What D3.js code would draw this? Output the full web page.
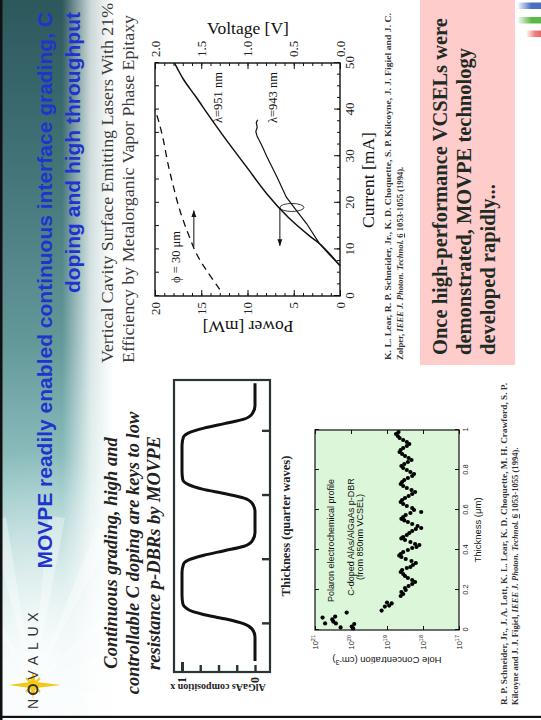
<!DOCTYPE html>
<html>
<head>
<meta charset="utf-8">
<script src="https://cdn.jsdelivr.net/npm/d3@7"></script>
<style>
  html, body { margin: 0; padding: 0; background: #fff; overflow: hidden; }
  svg { display: block; }
</style>
</head>
<body>
<script>
// ---------------- data ----------------
// Light-output / voltage vs. current of the 30 um VCSELs
const currentTicks = [0, 10, 20, 30, 40, 50];
const powerTicks = [0, 5, 10, 15, 20];
const voltageTicks = [0.0, 0.5, 1.0, 1.5, 2.0];
const voltageTickLabels = ["0.0", "0.5", "1.0", "1.5", "2.0"];

const current951 = [6.5, 9, 11.2, 12.9, 16.9, 21.9, 27.7, 33.5, 38.5, 42.8, 46.4, 48.9, 50];
const power951   = [0, 1.1, 2.2, 3.3, 5.6, 7.9, 10.1, 12.3, 14.1, 15.6, 16.9, 17.6, 17.9];

const current943 = [6.5, 9, 11.2, 15.5, 18.3, 21.2, 25.5, 29.9, 32.5, 34.2, 35.3, 36.2, 37.2, 37.8];
const power943   = [0, 1.2, 2.2, 3.6, 4.7, 5.8, 6.8, 7.9, 8.5, 8.95, 9.1, 8.95, 9.05, 8.9];

const currentV = [1.4, 5.4, 9.0, 13.3, 18.3, 23.4, 28.4, 33.5, 37.5, 40];
const voltageV = [1.30, 1.44, 1.55, 1.64, 1.73, 1.80, 1.86, 1.91, 1.96, 2.0];

// Graded AlGaAs composition profile across the mirror
const gradeTicks = [1, 2, 3, 4];
const compositionTicks = [0, 0.25, 0.5, 0.75, 1];
const compositionTickLabels = ["0", "", "", "", "1"];
const thicknessQW = [0.42, 0.8, 0.92, 1.0, 1.08, 1.15, 1.22, 1.32, 1.45,
                     1.8, 1.93, 2.0, 2.07, 2.14, 2.21, 2.29, 2.42,
                     2.75, 2.88, 2.96, 3.03, 3.1, 3.17, 3.25, 3.38,
                     3.78, 3.91, 3.98, 4.05, 4.12, 4.19, 4.27, 4.4, 4.75];
const composition = [0, 0, 0.04, 0.15, 0.42, 0.72, 0.91, 0.99, 1,
                     1, 0.98, 0.9, 0.7, 0.42, 0.15, 0.04, 0,
                     0, 0.04, 0.15, 0.42, 0.72, 0.91, 0.99, 1,
                     1, 0.98, 0.9, 0.7, 0.42, 0.15, 0.04, 0, 0];

// Electrochemical hole profile (exponent of cm^-3)
const depthTicks = [0, 0.2, 0.4, 0.6, 0.8, 1];
const depthTickLabels = ["0", "0.2", "0.4", "0.6", "0.8", "1"];
const concExponents = [17, 18, 19, 20, 21];
const holeDepth = [
  0.062, 0.033, 0.053, 0.042, 0.067, 0.033, 0.013, 0.087, 0.017, 0.008, 0.03,
  0.097, 0.117, 0.137, 0.122, 0.133,
  0.17, 0.18, 0.19, 0.2, 0.21, 0.22, 0.23, 0.24, 0.25, 0.26, 0.27, 0.28, 0.29, 0.30, 0.31,
  0.315, 0.325, 0.335, 0.345, 0.355, 0.365, 0.372, 0.38, 0.39, 0.40, 0.41, 0.415, 0.425, 0.43,
  0.44, 0.45, 0.458, 0.465, 0.475, 0.485, 0.495, 0.505, 0.51, 0.52, 0.53, 0.54, 0.548, 0.556,
  0.565, 0.575, 0.585, 0.59, 0.60, 0.61, 0.62, 0.63, 0.64, 0.65, 0.66, 0.67, 0.68, 0.69,
  0.70, 0.71, 0.72, 0.73, 0.74, 0.75, 0.76, 0.77, 0.78, 0.79, 0.80, 0.81, 0.82,
  0.83, 0.84, 0.85, 0.86, 0.87, 0.88, 0.89, 0.90, 0.91, 0.92, 0.93, 0.94, 0.95, 0.96, 0.97, 0.98, 0.99];
const holeLogConc = [
  20.79, 20.72, 20.52, 20.49, 20.44, 20.42, 20.29, 20.12, 19.98, 19.94, 19.91,
  19.15, 19.06, 19.0, 18.94, 18.87,
  18.62, 18.55, 18.6, 18.48, 18.5, 18.4, 18.3, 18.22, 18.3, 18.42, 18.5, 18.55, 18.62, 18.58, 18.45,
  18.35, 18.28, 18.2, 18.32, 18.48, 18.6, 18.66, 18.62, 18.55, 18.42, 18.3, 18.18, 18.1, 18.22,
  18.35, 18.5, 18.6, 18.55, 18.45, 18.38, 18.3, 18.2, 18.05, 18.15, 18.3, 18.42, 18.52, 18.6,
  18.55, 18.48, 18.35, 18.05, 18.25, 18.3, 18.45, 18.55, 18.62, 18.58, 18.5, 18.4, 18.3, 18.22,
  18.32, 18.45, 18.55, 18.62, 18.58, 18.52, 18.42, 18.3, 18.25, 18.35, 18.45, 18.55, 18.6,
  18.52, 18.42, 18.32, 18.4, 18.5, 18.58, 18.65, 18.62, 18.55, 18.45, 18.38, 18.45, 18.55, 18.65, 18.7, 18.75, 18.68];

const logoLetters = ["N", "O", "V", "A", "L", "U", "X"];

// ---------------- canvas ----------------
// The slide is laid out landscape (720 x 541) and turned a quarter turn onto the page.
const svg = d3.select("body").append("svg").attr("width", 541).attr("height", 720);
const defs = svg.append("defs");
const slide = svg.append("g").attr("transform", "translate(0,720) rotate(-90)");

const SERIF = "'Liberation Serif', 'Times New Roman', serif";
const SANS = "'Liberation Sans', Arial, sans-serif";

slide.append("rect").attr("width", 720).attr("height", 541).attr("fill", "#fff");

// ---- header band ----
const hg = defs.append("linearGradient").attr("id", "hdr").attr("x1", 0).attr("x2", 1).attr("y1", 0).attr("y2", 0);
[[0, "#eef9f9"], [0.14, "#cfe8e8"], [0.32, "#95c6c5"], [0.52, "#64999a"], [0.75, "#44767a"], [1, "#2c585c"]]
  .forEach(([o, c]) => hg.append("stop").attr("offset", o).attr("stop-color", c));
const hf = defs.append("linearGradient").attr("id", "hdrFade").attr("x1", 0).attr("x2", 0).attr("y1", 0).attr("y2", 1);
[[0, 0], [0.55, 0], [0.8, 0.75], [1, 1]]
  .forEach(([o, a]) => hf.append("stop").attr("offset", o).attr("stop-color", "#fff").attr("stop-opacity", a));
const glow = defs.append("radialGradient").attr("id", "glow");
[[0, 0.95], [0.35, 0.6], [1, 0]]
  .forEach(([o, a]) => glow.append("stop").attr("offset", o).attr("stop-color", "#ffffff").attr("stop-opacity", a));

slide.append("rect").attr("x", 0).attr("y", 0).attr("width", 720).attr("height", 112).attr("fill", "url(#hdr)");
slide.append("rect").attr("x", 0).attr("y", 0).attr("width", 720).attr("height", 113).attr("fill", "url(#hdrFade)");
slide.append("ellipse").attr("cx", 40).attr("cy", 35).attr("rx", 230).attr("ry", 140).attr("fill", "url(#glow)");

// light rays around the logo star
const star = { x: 35, y: 33 };
const rayAngles = [-80, -55, -30, -12, 8, 25, 48, 70, 100, 130];
slide.append("g").selectAll("path").data(rayAngles).join("path")
  .attr("d", a => {
    const r = a * Math.PI / 180, L = 170, w = 0.05;
    const p1 = [star.x + L * Math.cos(r - w), star.y + L * Math.sin(r - w)];
    const p2 = [star.x + L * Math.cos(r + w), star.y + L * Math.sin(r + w)];
    return `M${star.x},${star.y}L${p1}L${p2}Z`;
  })
  .attr("fill", "#ffffff").attr("opacity", 0.35);

// logo
const lx = d3.scalePoint().domain(logoLetters).range([16, 103]);
slide.append("path")
  .attr("d", `M${star.x},${star.y - 24}L${star.x + 3},${star.y - 3}L${star.x + 13},${star.y}L${star.x + 3},${star.y + 3}` +
             `L${star.x},${star.y + 28}L${star.x - 3},${star.y + 3}L${star.x - 13},${star.y}L${star.x - 3},${star.y - 3}Z`)
  .attr("fill", "#f4c815");
slide.append("path")
  .attr("d", `M${star.x - 7},${star.y - 7}L${star.x + 7},${star.y + 7}M${star.x - 7},${star.y + 7}L${star.x + 7},${star.y - 7}`)
  .attr("stroke", "#f4c815").attr("stroke-width", 2);
slide.append("g").selectAll("text").data(logoLetters.filter(d => d !== "O")).join("text")
  .attr("x", d => lx(d)).attr("y", 38).attr("text-anchor", "middle")
  .attr("font-family", SANS).attr("font-size", 14).attr("fill", "#333").text(d => d);
slide.append("circle").attr("cx", lx("O")).attr("cy", 33).attr("r", 4.5)
  .attr("fill", "none").attr("stroke", "#333").attr("stroke-width", 2);

// title
const title = ["MOVPE readily enabled continuous interface grading, C", "doping and high throughput"];
slide.append("g").selectAll("text").data(title).join("text")
  .attr("x", 708).attr("y", (d, i) => 52 + i * 28).attr("text-anchor", "end")
  .attr("font-family", SANS).attr("font-weight", "bold").attr("font-size", 21)
  .attr("fill", "#1f33cf").text(d => d);

// frame lines of the slide
slide.append("rect").attr("x", 0).attr("y", 0).attr("width", 720).attr("height", 2.5).attr("fill", "#111");
slide.append("rect").attr("x", 2).attr("y", 0).attr("width", 2.2).attr("height", 541).attr("fill", "#111");

// colour bars in the corner
[["#4a6fc0", 711, 517], ["#5cb845", 696.5, 517], ["#e84a4a", 683, 526]].forEach(([c, x, y0], i) => {
  const gid = "bar" + i;
  const gr = defs.append("linearGradient").attr("id", gid).attr("x1", 0).attr("x2", 0).attr("y1", 0).attr("y2", 1);
  gr.append("stop").attr("offset", 0).attr("stop-color", c).attr("stop-opacity", 0);
  gr.append("stop").attr("offset", 0.6).attr("stop-color", c).attr("stop-opacity", i === 2 ? 0.7 : 1);
  gr.append("stop").attr("offset", 1).attr("stop-color", c).attr("stop-opacity", i === 2 ? 0.85 : 1);
  slide.append("rect").attr("x", x).attr("y", y0).attr("width", 6.5).attr("height", 541 - y0).attr("fill", `url(#${gid})`);
});

// ---- left text block ----
const lead = ["Continuous grading, high and", "controllable C doping are keys to low", "resistance p-DBRs by MOVPE"];
slide.append("g").selectAll("text").data(lead).join("text")
  .attr("x", 167).attr("y", (d, i) => 117 + i * 21.5).attr("text-anchor", "middle")
  .attr("font-family", SERIF).attr("font-weight", "bold").attr("font-style", "italic")
  .attr("font-size", 18.5).attr("fill", "#222").text(d => d);

// helper for lines mixing italic / underlined runs
function richLine(parent, x, y, parts, size, len) {
  const t = parent.append("text").attr("x", x).attr("y", y)
    .attr("font-family", SERIF).attr("font-weight", "bold").attr("font-size", size).attr("fill", "#333");
  if (len) t.attr("textLength", len).attr("lengthAdjust", "spacingAndGlyphs");
  parts.forEach(p => {
    const s = t.append("tspan").text(p.t);
    if (p.i) s.attr("font-style", "italic");
    if (p.u) s.attr("text-decoration", "underline");
  });
  return t;
}

// ---- L-I-V plot ----
const pp = slide.append("g");
const xI = d3.scaleLinear().domain([0, 50]).range([424, 657]);
const yP = d3.scaleLinear().domain([0, 20]).range([340, 155]);
const yV = d3.scaleLinear().domain([0, 2]).range([340, 155]);

pp.append("text").attr("x", 357).attr("y", 113).attr("font-family", SERIF).attr("font-size", 16)
  .attr("fill", "#3a3a3a").attr("textLength", 360).attr("lengthAdjust", "spacingAndGlyphs")
  .text("Vertical Cavity Surface Emitting Lasers With 21%");
pp.append("text").attr("x", 357).attr("y", 134).attr("font-family", SERIF).attr("font-size", 16)
  .attr("fill", "#3a3a3a").attr("textLength", 348).attr("lengthAdjust", "spacingAndGlyphs")
  .text("Efficiency by Metalorganic Vapor Phase Epitaxy");

function styleAxis(sel, fs) {
  sel.select(".domain").remove();
  sel.selectAll("line").attr("stroke", "#111");
  sel.selectAll("text").attr("font-family", SERIF).attr("font-size", fs).attr("fill", "#222");
}
// minor ticks
pp.append("g").attr("transform", "translate(0,340)")
  .call(d3.axisBottom(xI).tickValues(d3.range(0, 50.1, 2.5)).tickSize(-3).tickFormat("")).call(styleAxis, 12);
pp.append("g").attr("transform", "translate(0,155)")
  .call(d3.axisTop(xI).tickValues(d3.range(0, 50.1, 5)).tickSize(-4).tickFormat("")).call(styleAxis, 12);
pp.append("g").attr("transform", "translate(424,0)")
  .call(d3.axisLeft(yP).tickValues(d3.range(0, 20.1, 1)).tickSize(-3).tickFormat("")).call(styleAxis, 12);
pp.append("g").attr("transform", "translate(657,0)")
  .call(d3.axisRight(yV).tickValues(d3.range(0, 2.01, 0.1)).tickSize(-3).tickFormat("")).call(styleAxis, 12);
// major ticks with labels
pp.append("g").attr("transform", "translate(0,340)")
  .call(d3.axisBottom(xI).tickValues(currentTicks).tickSize(-6).tickPadding(5).tickFormat(d3.format("d"))).call(styleAxis, 13);
pp.append("g").attr("transform", "translate(424,0)")
  .call(d3.axisLeft(yP).tickValues(powerTicks).tickSize(-6).tickPadding(6).tickFormat(d3.format("d"))).call(styleAxis, 13);
pp.append("g").attr("transform", "translate(657,0)")
  .call(d3.axisRight(yV).tickValues(voltageTicks).tickSize(-6).tickPadding(6).tickFormat((d, i) => voltageTickLabels[i])).call(styleAxis, 13);

pp.append("rect").attr("x", 424).attr("y", 155).attr("width", 233).attr("height", 185)
  .attr("fill", "none").attr("stroke", "#111").attr("stroke-width", 1.4);

const linePI = d3.line().x(d => xI(d[0])).y(d => yP(d[1])).curve(d3.curveCatmullRom);
pp.append("path").datum(d3.zip(current951, power951)).attr("d", linePI)
  .attr("fill", "none").attr("stroke", "#111").attr("stroke-width", 1.5);
pp.append("path").datum(d3.zip(current943, power943)).attr("d", d3.line().x(d => xI(d[0])).y(d => yP(d[1])))
  .attr("fill", "none").attr("stroke", "#111").attr("stroke-width", 1.2);
pp.append("path").datum(d3.zip(currentV, voltageV))
  .attr("d", d3.line().x(d => xI(d[0])).y(d => yV(d[1])).curve(d3.curveCatmullRom))
  .attr("fill", "none").attr("stroke", "#111").attr("stroke-width", 1.3).attr("stroke-dasharray", "7,5");

// annotations
const ann = [["λ=951 nm", 597, 222], ["λ=943 nm", 597, 277], ["ϕ = 30 μm", 437, 180]];
pp.selectAll("text.ann").data(ann).join("text").attr("class", "ann")
  .attr("x", d => d[1]).attr("y", d => d[2]).attr("font-family", SERIF).attr("font-size", 12.5)
  .attr("fill", "#111").text(d => d[0]);
pp.append("ellipse").attr("cx", xI(19)).attr("cy", yP(5.2)).attr("rx", 4).attr("ry", 12)
  .attr("fill", "none").attr("stroke", "#222").attr("stroke-width", 0.9);
defs.append("marker").attr("id", "ah").attr("viewBox", "0 0 10 10").attr("refX", 9).attr("refY", 5)
  .attr("markerWidth", 9).attr("markerHeight", 7).attr("orient", "auto")
  .append("path").attr("d", "M0,1.5L10,5L0,8.5Z").attr("fill", "#111");
pp.append("line").attr("x1", xI(19)).attr("x2", xI(10.8)).attr("y1", yP(6.5)).attr("y2", yP(6.5))
  .attr("stroke", "#111").attr("stroke-width", 1).attr("marker-end", "url(#ah)");
pp.append("line").attr("x1", xI(10.6)).attr("x2", xI(18.3)).attr("y1", yV(1.58)).attr("y2", yV(1.58))
  .attr("stroke", "#111").attr("stroke-width", 1).attr("marker-end", "url(#ah)");

// axis titles
pp.append("text").attr("x", 540).attr("y", 374).attr("text-anchor", "middle")
  .attr("font-family", SERIF).attr("font-size", 17.5).attr("fill", "#111").text("Current [mA]");
pp.append("text").attr("transform", "translate(399,248) rotate(-90)").attr("text-anchor", "middle")
  .attr("font-family", SERIF).attr("font-size", 17.5).attr("fill", "#111").text("Power [mW]");
pp.append("text").attr("transform", "translate(686,248) rotate(90)").attr("text-anchor", "middle")
  .attr("font-family", SERIF).attr("font-size", 17.5).attr("fill", "#111").text("Voltage [V]");

richLine(slide, 360, 391, [{ t: "K. L. Lear, R. P. Schneider, Jr., K. D. Choquette, S. P. Kilcoyne, J. J. Figiel and J. C." }], 8.6, 347);
richLine(slide, 360, 403, [{ t: "Zolper, " }, { t: "IEEE J. Photon. Technol.", i: true }, { t: " " }, { t: "6", u: true }, { t: " 1053-1055 (1994)." }], 8.6);

// ---- pink call-out ----
slide.append("rect").attr("x", 355).attr("y", 420).attr("width", 365).attr("height", 95).attr("fill", "#ffcccc");
const callout = ["Once high-performance VCSELs were", "demonstrated, MOVPE technology", "developed rapidly..."];
slide.append("g").selectAll("text").data(callout).join("text")
  .attr("x", 365).attr("y", (d, i) => 447 + i * 24).attr("font-family", SERIF).attr("font-weight", "bold")
  .attr("font-size", 20.5).attr("fill", "#1d2b25").text(d => d);

// ---- composition profile ----
const dp = slide.append("g");
const xT = d3.scaleLinear().domain([0.25, 4.8]).range([48, 340]);
const yC = d3.scaleLinear().domain([0, 1]).range([255, 182]);
dp.append("rect").attr("x", 48).attr("y", 174).attr("width", 292).attr("height", 96)
  .attr("fill", "none").attr("stroke", "#2b3535").attr("stroke-width", 2.2);
dp.append("g").attr("transform", "translate(0,270)")
  .call(d3.axisBottom(xT).tickValues(gradeTicks).tickSize(-8).tickFormat(""))
  .call(s => { s.select(".domain").remove(); s.selectAll("line").attr("stroke", "#2b3535").attr("stroke-width", 2.4); });
dp.append("g").attr("transform", "translate(48,0)")
  .call(d3.axisLeft(yC).tickValues(compositionTicks).tickSize(-7).tickPadding(5).tickFormat((d, i) => compositionTickLabels[i]))
  .call(s => {
    s.select(".domain").remove();
    s.selectAll("line").attr("stroke", "#2b3535").attr("stroke-width", 2.4);
    s.selectAll(".tick").filter(d => d === 1).select("line").attr("x2", 10).attr("stroke-width", 3);
    s.selectAll("text").attr("font-family", SERIF).attr("font-weight", "bold").attr("font-size", 12).attr("fill", "#222");
  });
dp.append("path").datum(d3.zip(thicknessQW, composition))
  .attr("d", d3.line().x(d => xT(d[0])).y(d => yC(d[1])).curve(d3.curveMonotoneX))
  .attr("fill", "none").attr("stroke", "#111").attr("stroke-width", 3);
dp.append("text").attr("x", 194).attr("y", 290).attr("text-anchor", "middle")
  .attr("font-family", SERIF).attr("font-weight", "bold").attr("font-size", 12.5).attr("fill", "#222")
  .text("Thickness (quarter waves)");
dp.append("text").attr("transform", "translate(36,218) rotate(-90)").attr("text-anchor", "middle")
  .attr("font-family", SERIF).attr("font-weight", "bold").attr("font-size", 10).attr("fill", "#222")
  .text("AlGaAs composition x");

// ---- hole concentration profile ----
const hp = slide.append("g");
const xD = d3.scaleLinear().domain([0, 1]).range([90, 290]);
const yH = d3.scaleLinear().domain([17, 21]).range([459, 315]);
hp.append("rect").attr("x", 90).attr("y", 315).attr("width", 200).attr("height", 144).attr("fill", "#dcf6da");
function thin(s) { s.select(".domain").remove(); s.selectAll("line").attr("stroke", "#111").attr("stroke-width", 1); }
hp.append("g").attr("transform", "translate(0,459)")
  .call(d3.axisBottom(xD).tickValues(depthTicks).tickSize(-4).tickPadding(4).tickFormat((d, i) => depthTickLabels[i]))
  .call(thin).call(s => s.selectAll("text").attr("font-family", SANS).attr("font-size", 7.5).attr("fill", "#222"));
hp.append("g").attr("transform", "translate(0,315)")
  .call(d3.axisTop(xD).tickValues(depthTicks).tickSize(-4).tickFormat("")).call(thin);
hp.append("g").attr("transform", "translate(290,0)")
  .call(d3.axisRight(yH).tickValues(concExponents).tickSize(-4).tickFormat("")).call(thin);
const leftAx = hp.append("g").attr("transform", "translate(90,0)")
  .call(d3.axisLeft(yH).tickValues(concExponents).tickSize(-4).tickFormat("")).call(thin);
leftAx.selectAll(".tick").append("text").attr("x", -5).attr("dy", "0.32em").attr("text-anchor", "end")
  .attr("font-family", SANS).attr("font-size", 7.5).attr("fill", "#222")
  .call(t => { t.append("tspan").text("10"); t.append("tspan").attr("dy", "-0.45em").attr("font-size", 5.5).text(d => d); });
hp.append("rect").attr("x", 90).attr("y", 315).attr("width", 200).attr("height", 144)
  .attr("fill", "none").attr("stroke", "#111").attr("stroke-width", 1.2);
hp.append("g").selectAll("circle").data(d3.zip(holeDepth, holeLogConc)).join("circle")
  .attr("cx", d => xD(d[0])).attr("cy", d => yH(d[1])).attr("r", 2.1).attr("fill", "#000");
hp.append("text").attr("x", 118).attr("y", 334).attr("font-family", SANS).attr("font-size", 9).attr("fill", "#111")
  .text("Polaron electrochemical profile");
hp.append("text").attr("x", 183).attr("y", 354).attr("text-anchor", "middle").attr("font-family", SANS).attr("font-size", 9).attr("fill", "#111")
  .text("C-doped AlAs/AlGaAs p-DBR");
hp.append("text").attr("x", 183).attr("y", 363).attr("text-anchor", "middle").attr("font-family", SANS).attr("font-size", 9).attr("fill", "#111")
  .text("(from 850nm VCSEL)");
hp.append("text").attr("x", 190).attr("y", 481).attr("text-anchor", "middle").attr("font-family", SANS).attr("font-size", 9.5).attr("fill", "#111")
  .text("Thickness (μm)");
const hy = hp.append("text").attr("transform", "translate(63,387) rotate(-90)").attr("text-anchor", "middle")
  .attr("font-family", SANS).attr("font-size", 9.5).attr("fill", "#111");
hy.append("tspan").text("Hole Concentration (cm");
hy.append("tspan").attr("dy", "-0.4em").attr("font-size", 7).text("-3");
hy.append("tspan").attr("dy", "0.4em").text(")");

richLine(slide, 15, 507, [{ t: "R. P. Schneider, Jr., J. A. Lott, K. L. Lear, K. D. Choquette, M. H. Crawford, S. P." }], 8.6, 322);
richLine(slide, 15, 518, [{ t: "Kilcoyne and J. J. Figiel, " }, { t: "IEEE J. Photon. Technol.", i: true }, { t: " " }, { t: "6", u: true }, { t: " 1053-1055 (1994)." }], 8.6);
</script>
</body>
</html>
